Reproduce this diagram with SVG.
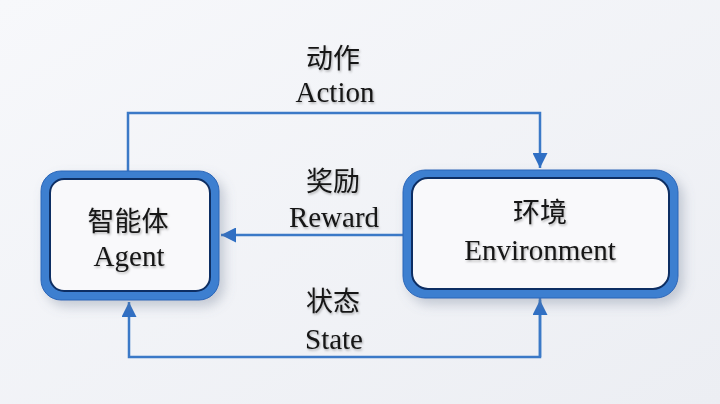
<svg xmlns="http://www.w3.org/2000/svg" width="720" height="404" viewBox="0 0 720 404">
<style>
.t{font-family:"Liberation Serif","Noto Sans CJK SC",serif;fill:#141414;text-anchor:middle;font-size:29px}
.c{font-family:"Noto Sans CJK SC","Liberation Serif",serif;fill:#141414;text-anchor:middle;font-size:27px}
.box{fill:#3d7fd0;stroke:#2a66b8;stroke-width:1}
.inner{fill:#f9f9fb;stroke:#0f2f63;stroke-width:2}
.ln{fill:none;stroke:#3b79c7;stroke-width:2.5}
</style>
<defs>
<linearGradient id="bg" x1="0" y1="0" x2="1" y2="1">
<stop offset="0" stop-color="#f7f8fb"/><stop offset="1" stop-color="#eceef3"/>
</linearGradient>
<filter id="sh" x="-20%" y="-20%" width="150%" height="160%">
<feDropShadow dx="5" dy="6" stdDeviation="6" flood-color="#6a7890" flood-opacity="0.35"/>
</filter>
<filter id="ts" x="-10%" y="-10%" width="130%" height="140%">
<feDropShadow dx="1" dy="1.5" stdDeviation="1" flood-color="#000" flood-opacity="0.3"/>
</filter>
<marker id="ah" viewBox="0 0 10 10" refX="10" refY="5" markerWidth="6" markerHeight="6" orient="auto" markerUnits="strokeWidth">
<path d="M0,0 L10,5 L0,10 z" fill="#2f6fc4"/>
</marker>
</defs>
<rect width="720" height="404" fill="url(#bg)"/>
<g id="connectors">
<path class="ln" d="M128,171 V113 H540 V168" marker-end="url(#ah)"/>
<path class="ln" d="M403,235 H221" marker-end="url(#ah)"/>
<path class="ln" d="M540,298 V357 H129 V302" marker-end="url(#ah)"/>
<path class="ln" d="M540,357 V300" marker-end="url(#ah)"/>
</g>
<g id="agent" filter="url(#sh)">
<rect class="box" x="41" y="171" width="178" height="129" rx="20"/>
<rect class="inner" x="50" y="179" width="160" height="112" rx="14"/>
</g>
<g id="environment" filter="url(#sh)">
<rect class="box" x="403" y="170" width="275" height="128" rx="22"/>
<rect class="inner" x="412" y="178" width="257" height="111" rx="16"/>
</g>
<g filter="url(#ts)">
<text class="c" x="128" y="231">智能体</text>
<text class="t" x="129" y="266">Agent</text>
<text class="c" x="540" y="222">环境</text>
<text class="t" x="540" y="260">Environment</text>
<text class="c" x="333" y="68">动作</text>
<text class="t" x="335" y="102">Action</text>
<text class="c" x="333" y="191">奖励</text>
<text class="t" x="334" y="227">Reward</text>
<text class="c" x="333" y="311">状态</text>
<text class="t" x="334" y="349">State</text>
</g>
</svg>
